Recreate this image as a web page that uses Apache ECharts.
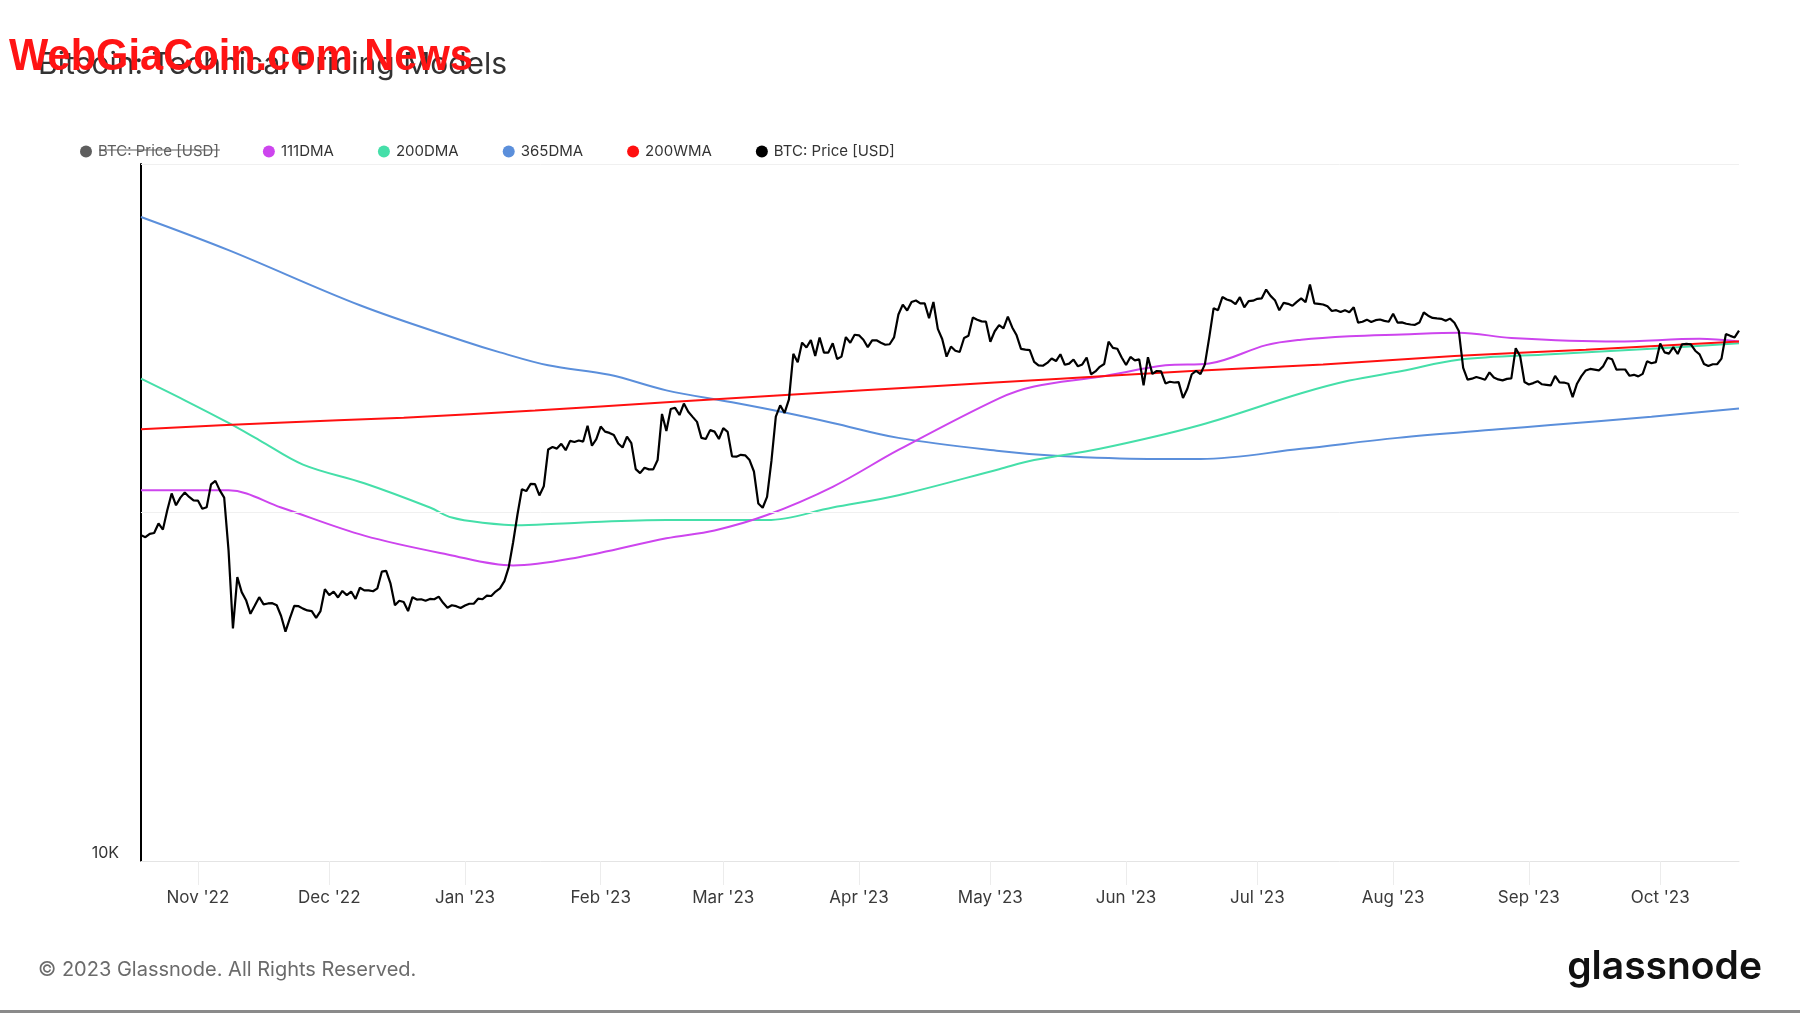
<!DOCTYPE html>
<html>
<head>
<meta charset="utf-8">
<script src="https://cdn.jsdelivr.net/npm/echarts@6/dist/echarts.min.js"></script>
<style>
html,body{margin:0;padding:0;background:#fff;}
#chart{width:1800px;height:1013px;}
</style>
</head>
<body>
<div id="chart"></div>
<script>
// ---- Data (USD), daily BTC price from 2022-10-19 ----
const priceStartDate = '2022-10-19';
const priceOct22 = [19120,19040,19170,19200,19570,19330,20090,20770,20290,20600,20810,20630,20490];
const priceNov22 = [20480,20150,20210,21150,21300,20900,20600,18540,15880,17590,17070,16800,16350,16620,16900,16660,16690,16700,16630,16280,15780,16200,16610,16600,16520,16460,16440,16220,16440,17170];
const priceDec22 = [16970,17090,16890,17110,16970,17090,16840,17220,17130,17130,17100,17200,17780,17810,17360,16630,16780,16740,16440,16900,16820,16830,16780,16840,16830,16920,16710,16550,16630,16600,16540];
const priceJan23 = [16620,16680,16680,16850,16830,16950,16940,17090,17200,17450,17940,18850,19930,20950,20870,21170,21160,20690,21070,22670,22780,22710,22930,22640,23060,23010,23080,23030,23770,22840,23140];
const priceFeb23 = [23730,23490,23430,23330,22940,22760,23260,22960,21800,21630,21860,21790,21790,22200,24330,23520,24570,24630,24280,24840,24440,24190,23950,23200,23150,23560,23490,23150];
const priceMar23 = [23650,23480,22360,22350,22430,22410,22200,21700,20360,20190,20630,22160,24200,24750,24380,25050,27420,26970,28040,27770,28180,27310,28330,27490,27490,28000,27140,27270,28350,28030,28480];
const priceApr23 = [28450,28200,27790,28170,28170,28030,27920,27950,28330,29650,30240,29890,30400,30490,30320,30320,29440,30400,28820,28240,27270,27820,27590,27520,28300,28420,29470,29340,29250,29230];
const priceMay23 = [28090,28680,29030,28850,29530,28900,28450,27690,27650,27620,26990,26800,26780,26930,27170,27030,27400,26830,26890,27110,26750,26850,27220,26330,26480,26720,26870,28090,27750,27700,27220];
const priceJun23 = [26820,27250,27070,27120,25760,27240,26350,26500,26480,25850,25940,25900,25920,25120,25580,26330,26510,26340,26850,28330,30030,29910,30700,30550,30470,30270,30690,30080,30450,30480];
const priceJul23 = [30590,30620,31160,30770,30510,29900,30350,30290,30170,30410,30620,30390,31480,30320,30290,30250,30140,29860,29910,29800,29910,29790,30080,29180,29230,29350,29210,29320,29360,29280,29230];
const priceAug23 = [29700,29180,29190,29110,29070,29050,29180,29770,29580,29450,29420,29400,29280,29410,29170,28700,26660,26050,26100,26190,26120,26040,26430,26160,26060,26010,26090,26110,27730,27300,25930];
const priceSep23 = [25800,25870,25970,25810,25780,25750,26240,25910,25900,25840,25160,25840,26230,26530,26610,26570,26530,26760,27210,27130,26570,26580,26580,26250,26300,26220,26350,27020,26910,26970];
const priceOct23 = [27990,27500,27430,27790,27410,27950,27970,27940,27590,27390,26870,26760,26860,26860,27160,28520,28420,28330,28720];

// ---- Moving averages ----
const dma111 = [['2022-10-19',20900],['2022-11-08',20900],['2022-11-20',20200],['2022-12-09',19100],['2022-12-28',18400],['2023-01-12',18000],['2023-01-27',18300],['2023-02-16',19000],['2023-02-27',19300],['2023-03-11',19900],['2023-03-26',21050],['2023-04-10',22650],['2023-05-03',25100],['2023-05-11',25700],['2023-05-26',26200],['2023-06-10',26800],['2023-06-20',26900],['2023-07-03',27900],['2023-07-11',28200],['2023-07-22',28400],['2023-08-03',28500],['2023-08-16',28600],['2023-08-28',28300],['2023-09-21',28100],['2023-10-10',28250],['2023-10-19',28100]];
const dma200 = [['2022-10-19',26100],['2022-10-29',25000],['2022-11-08',23900],['2022-11-15',23100],['2022-11-25',22000],['2022-12-09',21200],['2022-12-24',20200],['2022-12-29',19800],['2023-01-05',19600],['2023-01-14',19500],['2023-01-27',19600],['2023-02-16',19700],['2023-03-11',19700],['2023-03-26',20200],['2023-04-10',20700],['2023-05-03',21800],['2023-05-11',22200],['2023-05-26',22700],['2023-06-18',23800],['2023-07-11',25350],['2023-07-22',26000],['2023-08-03',26500],['2023-08-16',27100],['2023-09-06',27400],['2023-09-29',27700],['2023-10-19',28000]];
const dma365 = [['2022-10-19',36000],['2022-11-08',33700],['2022-12-08',30200],['2023-01-01',28100],['2023-01-09',27500],['2023-01-20',26800],['2023-02-03',26300],['2023-02-16',25500],['2023-03-03',24900],['2023-03-15',24400],['2023-03-26',23900],['2023-04-10',23200],['2023-05-03',22600],['2023-05-15',22400],['2023-06-06',22250],['2023-06-18',22250],['2023-07-11',22700],['2023-08-02',23200],['2023-08-25',23600],['2023-09-06',23800],['2023-09-29',24200],['2023-10-19',24600]];
const wma200 = [['2022-10-19',23600],['2022-11-18',23900],['2022-12-18',24150],['2023-01-17',24500],['2023-02-16',24900],['2023-03-18',25300],['2023-04-17',25700],['2023-05-17',26100],['2023-06-16',26500],['2023-07-16',26850],['2023-08-15',27300],['2023-09-14',27650],['2023-10-19',28100]];

const seriesNames = ['BTC: Price [USD] (base)','111DMA','200DMA','365DMA','200WMA','BTC: Price [USD]'];
const yTickLabels = {10000:'10K'};
const gridLines = [20000, 40000];
const monthNames = ['Jan','Feb','Mar','Apr','May','Jun','Jul','Aug','Sep','Oct','Nov','Dec'];

// ---- Build ----
const DAY = 86400000;
const t0 = Date.parse(priceStartDate + 'T00:00:00Z');
const priceAll = [].concat(priceOct22,priceNov22,priceDec22,priceJan23,priceFeb23,priceMar23,priceApr23,priceMay23,priceJun23,priceJul23,priceAug23,priceSep23,priceOct23);
const priceData = priceAll.map((v,i)=>[t0 + i*DAY, v]);
const toTs = arr => arr.map(p=>[Date.parse(p[0]+'T00:00:00Z'), p[1]]);

const FONT = 'Inter, "Noto Sans", sans-serif';
const WM_FONT = 'bold 44px "Liberation Sans Narrow", "Liberation Sans", Arial, sans-serif';
const chart = echarts.init(document.getElementById('chart'), null, {renderer:'canvas'});

const cv = document.createElement('canvas').getContext('2d');
cv.font = '15px Inter';
const strikeW = cv.measureText('BTC: Price [USD]').width;
cv.font = WM_FONT;
const wmW = cv.measureText('WebGiaCoin.com News').width;
const wmScale = 464 / wmW;

const maLine = (name, data, color, z) => ({
  name, type:'line', data: toTs(data), showSymbol:false, smooth:0.35, z,
  lineStyle:{color, width:2}, itemStyle:{color}, emphasis:{disabled:true}, silent:true
});

const option = {
  animation:false,
  useUTC:true,
  backgroundColor:'#ffffff',
  textStyle:{fontFamily:FONT},
  grid:{left:141, right:61, top:164, bottom:152, containLabel:false},
  legend:{
    left:75, top:139, padding:5, itemGap:44, itemWidth:14, itemHeight:12, icon:'circle',
    data: seriesNames,
    selected:{'BTC: Price [USD] (base)':false},
    inactiveColor:'#5e5e5e',
    textStyle:{fontSize:15, color:'#333', fontFamily:FONT},
    formatter: n => n.indexOf('BTC') === 0 ? 'BTC: Price [USD]' : n
  },
  xAxis:{
    type:'time',
    min: Date.parse('2022-10-19T00:00:00Z'),
    max: Date.parse('2023-10-19T00:00:00Z'),
    splitNumber:12,
    minInterval:28*DAY, maxInterval:31*DAY,
    axisLine:{lineStyle:{color:'#e4e4e4', width:1}},
    axisTick:{show:true, length:24, lineStyle:{color:'#ececec'}},
    splitLine:{show:false},
    axisLabel:{
      fontSize:17, color:'#3a3a3a', margin:28, fontFamily:FONT,
      showMinLabel:false, showMaxLabel:false,
      formatter: v => { const d = new Date(v); return monthNames[d.getUTCMonth()] + " '" + String(d.getUTCFullYear()).slice(2); }
    }
  },
  yAxis:{
    type:'log', logBase:2, min:10000, max:40000,
    axisLine:{show:true, lineStyle:{color:'#000', width:2}},
    axisTick:{show:false},
    splitLine:{show:false},
    axisLabel:{
      fontSize:16, color:'#333', margin:22, verticalAlign:'bottom', fontFamily:FONT,
      formatter: v => { const k = Math.round(v); return yTickLabels[k] || ''; }
    }
  },
  series:[
    { name:seriesNames[0], type:'line', data:priceData, showSymbol:false, z:1,
      lineStyle:{color:'#5e5e5e', width:2}, itemStyle:{color:'#5e5e5e'}, silent:true },
    Object.assign(maLine('365DMA', dma365, '#5b8fdb', 2), {
      markLine:{ silent:true, symbol:'none', label:{show:false}, animation:false,
        lineStyle:{color:'#f0f0f0', type:'solid', width:1},
        emphasis:{disabled:true},
        data: gridLines.map(v=>({yAxis:v})) }
    }),
    maLine('200DMA', dma200, '#45dfa9', 3),
    maLine('111DMA', dma111, '#cd45ee', 4),
    maLine('200WMA', wma200, '#ff1010', 5),
    { name:seriesNames[5], type:'line', data:priceData, showSymbol:false, z:6,
      lineStyle:{color:'#000', width:2.2}, itemStyle:{color:'#000'}, silent:true, emphasis:{disabled:true} }
  ],
  graphic:[
    { type:'text', left:38, top:50, z:10, style:{text:'Bitcoin: Technical Pricing Models', fill:'#333', font:'30px '+FONT} },
    { type:'text', x:9, y:58, scaleX:wmScale, originX:0, originY:0, z:20,
      style:{x:0, y:0, text:'WebGiaCoin.com News', fill:'#ff1414', font:WM_FONT, verticalAlign:'middle', align:'left'} },
    { type:'line', z:30, shape:{x1:99, y1:150, x2:99+strikeW, y2:150}, style:{stroke:'#5e5e5e', lineWidth:1} },
    { type:'text', left:38, top:960, z:10, style:{text:'© 2023 Glassnode. All Rights Reserved.', fill:'#6b6b6b', font:'20px '+FONT} },
    { type:'text', right:38, top:948, z:10, style:{text:'glassnode', fill:'#111', font:'600 39px '+FONT} },
    { type:'rect', left:0, top:1010, z:10, shape:{width:1800, height:3}, style:{fill:'#8a8a8a'} }
  ]
};
chart.setOption(option);
</script>
</body>
</html>
